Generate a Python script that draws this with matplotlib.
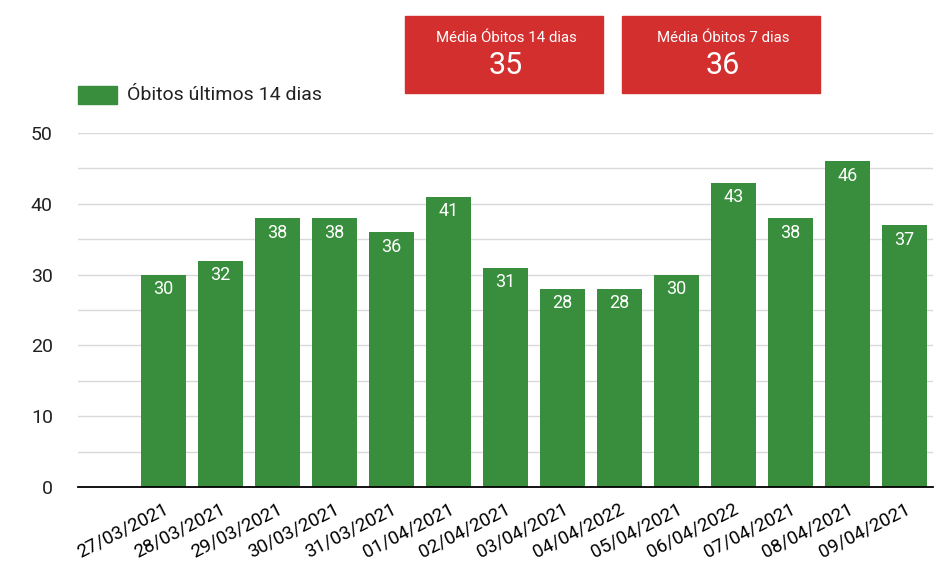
import matplotlib.pyplot as plt
from matplotlib.patches import Rectangle

plt.rcParams['font.family'] = ['Roboto', 'DejaVu Sans']

datas = ['27/03/2021', '28/03/2021', '29/03/2021', '30/03/2021', '31/03/2021',
         '01/04/2021', '02/04/2021', '03/04/2021', '04/04/2022', '05/04/2021',
         '06/04/2022', '07/04/2021', '08/04/2021', '09/04/2021']
obitos = [30, 32, 38, 38, 36, 41, 31, 28, 28, 30, 43, 38, 46, 37]
media_14 = 35
media_7 = 36

verde = '#388e3c'
vermelho = '#d32f2f'

fig = plt.figure(figsize=(9.5, 5.64), dpi=100)
ax = fig.add_axes([0.082, 0.1365, 0.9, 0.6275])

x = list(range(len(datas)))
bars = ax.bar(x, obitos, width=0.8, color=verde, zorder=2)
for b, v in zip(bars, obitos):
    ax.text(b.get_x() + b.get_width() / 2, v - 0.8, str(v), ha='center', va='top',
            color='white', fontsize=13, zorder=3)

ax.set_xlim(-1.5, len(datas) - 0.5)
ax.set_ylim(0, 50)
ax.set_yticks(range(0, 51, 10))
ax.set_yticks(range(5, 50, 10), minor=True)
ax.grid(axis='y', which='both', color='#d9d9d9', linewidth=1, zorder=0)
ax.set_xticks(x)
ax.set_xticklabels(datas, rotation=27, ha='right', rotation_mode='anchor', fontsize=13.5)
ax.tick_params(axis='both', which='both', length=0)
ax.tick_params(axis='x', pad=9)
ax.tick_params(axis='y', labelsize=14, pad=18, colors='#222222')
for s in ['top', 'right', 'left']:
    ax.spines[s].set_visible(False)
ax.spines['bottom'].set_color('black')
ax.spines['bottom'].set_linewidth(1.3)
ax.spines['bottom'].set_zorder(4)

# legenda
fig.patches.append(Rectangle((78 / 950, 1 - 104 / 564), 39 / 950, 18 / 564,
                             transform=fig.transFigure, color=verde))
fig.text(127 / 950, 1 - 95 / 564, 'Óbitos últimos 14 dias', fontsize=14,
         va='center', ha='left', color='#222222')

# cartões de média
for x0, titulo, valor in [(405, 'Média Óbitos 14 dias', media_14),
                          (622, 'Média Óbitos 7 dias', media_7)]:
    fig.patches.append(Rectangle((x0 / 950, 1 - 93 / 564), 198 / 950, 77 / 564,
                                 transform=fig.transFigure, color=vermelho))
    cx = (x0 + 101) / 950
    fig.text(cx, 1 - 38 / 564, titulo, fontsize=10.8, color='white', ha='center', va='center')
    fig.text(cx, 1 - 65 / 564, str(valor), fontsize=22, color='white', ha='center', va='center')

fig.savefig('out.png', dpi=100)
